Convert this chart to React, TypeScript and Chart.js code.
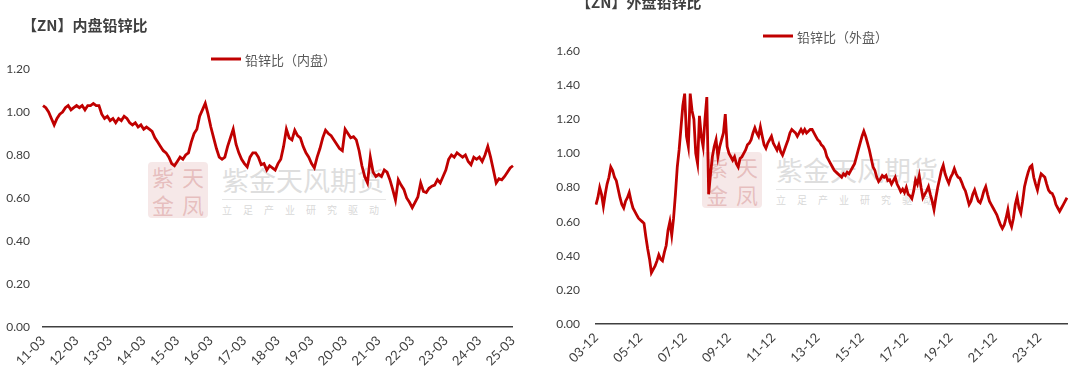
import React, { useEffect, useRef } from 'react';
import { Chart, registerables } from 'chart.js';

Chart.register(...registerables);

// ---------- DATA ----------
const innerStart = { year: 2011, month: 3 };
const innerValues = [
  1.03, 1.02, 1.00, 0.97, 0.94, 0.97, 0.99, 1.00, 1.02, 1.03, 1.01, 1.02,
  1.03, 1.02, 1.03, 1.01, 1.03, 1.03, 1.04, 1.03, 1.03, 0.99, 0.97, 0.98,
  0.96, 0.97, 0.95, 0.97, 0.96, 0.98, 0.97, 0.95, 0.94, 0.95, 0.93, 0.94,
  0.92, 0.93, 0.92, 0.91, 0.88, 0.86, 0.84, 0.82, 0.81, 0.79, 0.76, 0.75,
  0.77, 0.79, 0.78, 0.80, 0.81, 0.86, 0.90, 0.92, 0.98, 1.01, 1.04, 0.99,
  0.93, 0.88, 0.83, 0.79, 0.78, 0.79, 0.84, 0.88, 0.92, 0.85, 0.81, 0.78,
  0.76, 0.745, 0.79, 0.81, 0.81, 0.79, 0.755, 0.76, 0.73, 0.75, 0.74, 0.73,
  0.76, 0.78, 0.84, 0.92, 0.88, 0.87, 0.915, 0.89, 0.88, 0.84, 0.81, 0.79,
  0.76, 0.74, 0.79, 0.83, 0.88, 0.915, 0.90, 0.89, 0.87, 0.85, 0.83, 0.82,
  0.92, 0.90, 0.88, 0.885, 0.87, 0.82, 0.75, 0.70, 0.67, 0.79, 0.72, 0.70,
  0.71, 0.70, 0.73, 0.72, 0.685, 0.64, 0.59, 0.685, 0.66, 0.64, 0.60, 0.58,
  0.555, 0.58, 0.605, 0.67, 0.63, 0.625, 0.645, 0.655, 0.66, 0.685, 0.67, 0.70,
  0.73, 0.78, 0.80, 0.79, 0.81, 0.80, 0.79, 0.80, 0.77, 0.755, 0.79, 0.78,
  0.79, 0.77, 0.80, 0.84, 0.79, 0.73, 0.67, 0.69, 0.685, 0.70, 0.72, 0.74,
  0.75,
];
const innerTickLabels = [
  '11-03', '12-03', '13-03', '14-03', '15-03', '16-03', '17-03', '18-03',
  '19-03', '20-03', '21-03', '22-03', '23-03', '24-03', '25-03',
];

const outerStart = { year: 2003, month: 12 };
const outerValues = [
  0.70, 0.74, 0.80, 0.76, 0.69, 0.76, 0.82, 0.86, 0.92, 0.90, 0.86, 0.84,
  0.79, 0.74, 0.70, 0.68, 0.72, 0.74, 0.77, 0.72, 0.68, 0.66, 0.64, 0.62,
  0.61, 0.60, 0.59, 0.51, 0.44, 0.38, 0.30, 0.32, 0.34, 0.37, 0.405, 0.38,
  0.37, 0.42, 0.46, 0.55, 0.60, 0.52, 0.62, 0.76, 0.92, 1.02, 1.15, 1.28,
  1.35, 1.10, 1.04, 1.35, 1.25, 1.20, 1.00, 0.94, 1.22, 1.10, 1.04, 1.20,
  1.33, 0.76, 0.88, 0.98, 1.04, 1.08, 0.98, 1.04, 1.08, 1.12, 1.23, 1.04,
  1.00, 0.98, 0.96, 0.98, 0.94, 0.92, 0.97, 0.98, 1.00, 1.02, 1.05, 1.06,
  1.08, 1.12, 1.15, 1.12, 1.10, 1.155, 1.10, 1.05, 1.03, 1.06, 1.08, 1.10,
  1.06, 1.04, 1.02, 1.05, 1.01, 0.99, 1.02, 1.05, 1.08, 1.12, 1.14, 1.13,
  1.12, 1.10, 1.12, 1.14, 1.12, 1.14, 1.12, 1.13, 1.14, 1.14, 1.12, 1.10,
  1.08, 1.07, 1.05, 1.04, 1.02, 0.98, 0.96, 0.94, 0.92, 0.90, 0.89, 0.88,
  0.87, 0.86, 0.88, 0.87, 0.89, 0.88, 0.90, 0.92, 0.94, 0.98, 1.02, 1.06,
  1.10, 1.13, 1.10, 1.06, 1.02, 0.97, 0.92, 0.90, 0.86, 0.835, 0.85, 0.87,
  0.86, 0.87, 0.84, 0.845, 0.82, 0.84, 0.86, 0.82, 0.80, 0.775, 0.79, 0.77,
  0.80, 0.76, 0.75, 0.735, 0.78, 0.845, 0.82, 0.87, 0.80, 0.74, 0.76, 0.78,
  0.805, 0.76, 0.72, 0.67, 0.74, 0.80, 0.85, 0.90, 0.93, 0.88, 0.85, 0.825,
  0.86, 0.88, 0.91, 0.88, 0.86, 0.855, 0.83, 0.80, 0.78, 0.74, 0.70, 0.72,
  0.76, 0.785, 0.75, 0.72, 0.71, 0.74, 0.78, 0.805, 0.76, 0.72, 0.70, 0.68,
  0.66, 0.64, 0.61, 0.58, 0.56, 0.58, 0.62, 0.67, 0.60, 0.57, 0.62, 0.70,
  0.745, 0.68, 0.65, 0.72, 0.805, 0.85, 0.89, 0.92, 0.93, 0.86, 0.82, 0.785,
  0.84, 0.88, 0.87, 0.86, 0.82, 0.785, 0.77, 0.765, 0.74, 0.70, 0.68, 0.66,
  0.68, 0.70, 0.72, 0.74,
];
const outerTickLabels = [
  '03-12', '05-12', '07-12', '09-12', '11-12', '13-12', '15-12', '17-12',
  '19-12', '21-12', '23-12',
];

const innerTitle = '【ZN】内盘铅锌比';
const outerTitle = '【ZN】外盘铅锌比';
const innerSeriesName = '铅锌比（内盘）';
const outerSeriesName = '铅锌比（外盘）';

function monthLabels(start: { year: number; month: number }, count: number): string[] {
  const out: string[] = [];
  let y = start.year;
  let m = start.month;
  for (let i = 0; i < count; i++) {
    out.push(String(y % 100).padStart(2, '0') + '-' + String(m).padStart(2, '0'));
    m++;
    if (m > 12) { m = 1; y++; }
  }
  return out;
}

const LINE_COLOR = '#C00000';

const overlayPlugin = {
  id: 'overlay',
  afterDraw(chart: any, _args: any, opts: any) {
    const ctx = chart.ctx;
    ctx.save();
    ctx.textAlign = 'left';
    ctx.textBaseline = 'middle';
    ctx.font = 'bold 15px "Noto Sans CJK SC"';
    ctx.fillStyle = '#404040';
    ctx.fillText(opts.title, opts.titleX, opts.titleY);
    const ds = chart.data.datasets[0];
    ctx.strokeStyle = ds.borderColor;
    ctx.lineWidth = 3;
    ctx.beginPath();
    ctx.moveTo(opts.legendX, opts.legendY);
    ctx.lineTo(opts.legendX + 30, opts.legendY);
    ctx.stroke();
    ctx.font = '13px "Noto Sans CJK SC"';
    ctx.fillStyle = '#595959';
    ctx.fillText(ds.label, opts.legendX + 34, opts.legendY + 1);
    ctx.restore();
  },
};

type PanelProps = {
  left: number;
  width: number;
  height: number;
  area: { left: number; right: number; top: number; bottom: number };
  values: number[];
  start: { year: number; month: number };
  tickLabels: string[];
  yMax: number;
  yPad: number;
  title: string;
  titleX: number;
  titleY: number;
  legendX: number;
  legendY: number;
  series: string;
};

function Panel(p: PanelProps) {
  const ref = useRef<HTMLCanvasElement>(null);
  useEffect(() => {
    if (!ref.current) return;
    const categories = monthLabels(p.start, p.values.length);
    const chart = new Chart(ref.current, {
      type: 'line',
      data: {
        labels: categories,
        datasets: [
          {
            label: p.series,
            data: p.values,
            borderColor: LINE_COLOR,
            backgroundColor: LINE_COLOR,
            borderWidth: 2.8,
            pointRadius: 0,
            tension: 0,
          },
        ],
      },
      options: {
        responsive: false,
        animation: false,
        devicePixelRatio: 1,
        layout: {
          padding: { top: p.area.top, right: p.width - p.area.right, left: 0, bottom: 0 },
        },
        plugins: {
          legend: { display: false },
          title: { display: false },
          tooltip: { enabled: false },
          overlay: {
            title: p.title,
            titleX: p.titleX,
            titleY: p.titleY,
            legendX: p.legendX,
            legendY: p.legendY,
          },
        } as any,
        scales: {
          x: {
            type: 'category',
            offset: false,
            grid: { display: false, drawTicks: false },
            border: { display: true, color: '#404040', width: 1.5 },
            afterBuildTicks: (s: any) => {
              s.ticks = s.ticks.filter((t: any) => p.tickLabels.includes(categories[t.value]));
            },
            afterFit: (s: any) => {
              s.height = p.height - p.area.bottom;
            },
            ticks: {
              autoSkip: false,
              minRotation: 45,
              maxRotation: 45,
              padding: 6,
              color: '#404040',
              font: { family: 'Lato', size: 13 },
            },
          },
          y: {
            min: 0,
            max: p.yMax,
            grid: { display: false, drawTicks: false },
            border: { display: false },
            afterFit: (s: any) => {
              s.width = p.area.left;
            },
            ticks: {
              stepSize: 0.2,
              padding: p.yPad,
              color: '#404040',
              font: { family: 'Lato', size: 12 },
              callback: (v: any) => Number(v).toFixed(2),
            },
          },
        },
      },
      plugins: [overlayPlugin],
    });
    return () => chart.destroy();
  }, []);
  return (
    <canvas
      ref={ref}
      width={p.width}
      height={p.height}
      style={{ position: 'absolute', left: p.left, top: 0, width: p.width, height: p.height, zIndex: 2 }}
    />
  );
}

function Watermark(props: { x: number; y: number }) {
  const { x, y } = props;
  return (
    <div style={{ position: 'absolute', left: x, top: y, width: 250, height: 60, zIndex: 1, pointerEvents: 'none' }}>
      <div
        style={{
          position: 'absolute', left: 0, top: 0, width: 60, height: 56,
          background: 'rgba(235,205,205,0.45)', borderRadius: 4,
          display: 'grid', gridTemplateColumns: '1fr 1fr',
          fontFamily: '"Noto Sans CJK SC"', fontSize: 22, lineHeight: '28px',
          color: 'rgba(200,110,110,0.35)', textAlign: 'center',
        }}
      >
        <span>紫</span><span>天</span><span>金</span><span>凤</span>
      </div>
      <div
        style={{
          position: 'absolute', left: 74, top: 2, whiteSpace: 'nowrap',
          fontFamily: '"Noto Sans CJK SC"', fontSize: 27, lineHeight: '32px',
          color: 'rgba(190,190,190,0.5)',
        }}
      >
        紫金天风期货
      </div>
      <div style={{ position: 'absolute', left: 74, top: 37, width: 164, height: 1, background: 'rgba(200,200,200,0.45)' }} />
      <div
        style={{
          position: 'absolute', left: 74, top: 42, width: 164, whiteSpace: 'nowrap',
          fontFamily: '"Noto Sans CJK SC"', fontSize: 10, lineHeight: '12px', letterSpacing: 11,
          color: 'rgba(190,190,190,0.6)',
        }}
      >
        立足产业研究驱动
      </div>
    </div>
  );
}

export default function App() {
  return (
    <div style={{ position: 'absolute', left: 0, top: 0, width: 1080, height: 374, background: '#fff', overflow: 'hidden' }}>
      <Watermark x={148} y={162} />
      <Watermark x={702} y={152} />
      <Panel
        left={0}
        width={530}
        height={374}
        area={{ left: 43, right: 513, top: 69, bottom: 327 }}
        values={innerValues}
        start={innerStart}
        tickLabels={innerTickLabels}
        yMax={1.2}
        yPad={13}
        title={innerTitle}
        titleX={22}
        titleY={25}
        legendX={211}
        legendY={59}
        series={innerSeriesName}
      />
      <Panel
        left={540}
        width={540}
        height={374}
        area={{ left: 56, right: 527, top: 51, bottom: 324 }}
        values={outerValues}
        start={outerStart}
        tickLabels={outerTickLabels}
        yMax={1.6}
        yPad={16}
        title={outerTitle}
        titleX={36}
        titleY={2}
        legendX={223}
        legendY={36}
        series={outerSeriesName}
      />
    </div>
  );
}
